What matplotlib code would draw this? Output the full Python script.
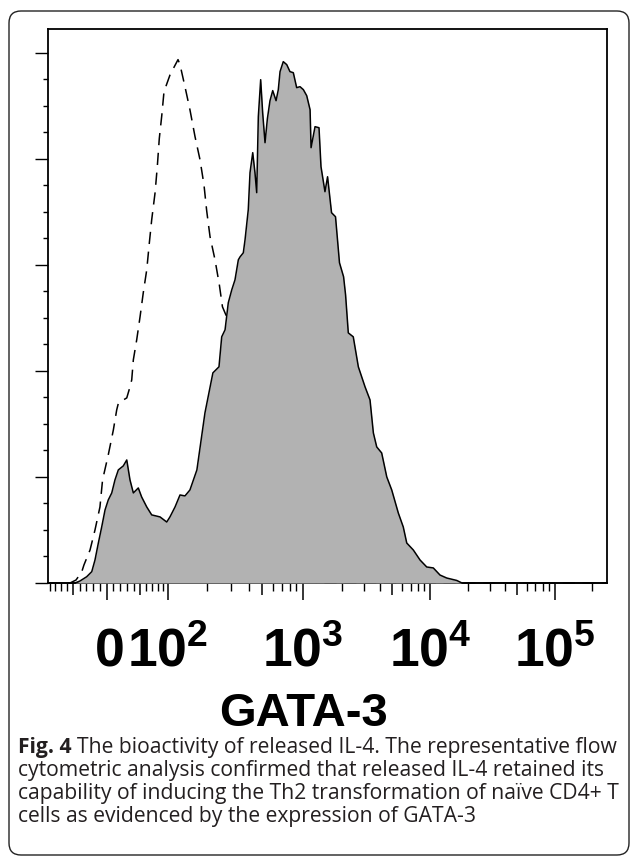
import numpy as np
import matplotlib
matplotlib.use("Agg")
import matplotlib.pyplot as plt
from matplotlib.patches import FancyBboxPatch
from matplotlib.transforms import ScaledTranslation

# ---------------- data (x in logicle display units, decades; y = cell counts) -------------
gata3_channel = [0.0, 0.216, 0.256, 0.310, 0.351, 0.377, 0.404, 0.431, 0.458, 0.484, 0.512,
                 0.538, 0.565, 0.605, 0.633, 0.659, 0.686, 0.726, 0.753, 0.794, 0.834,
                 0.901, 0.955, 0.981, 1.022, 1.062, 1.102, 1.142, 1.198, 1.263, 1.327,
                 1.376, 1.398, 1.425, 1.451, 1.479, 1.505, 1.532, 1.546, 1.572, 1.586,
                 1.612, 1.626, 1.648, 1.666, 1.680, 1.693, 1.712, 1.728, 1.747, 1.766,
                 1.787, 1.809, 1.836, 1.854, 1.868, 1.894, 1.922, 1.948, 1.975, 2.002,
                 2.029, 2.056, 2.083, 2.110, 2.118, 2.150, 2.182, 2.198, 2.230, 2.251,
                 2.283, 2.315, 2.347, 2.380, 2.396, 2.418, 2.458, 2.499, 2.553, 2.593,
                 2.620, 2.647, 2.687, 2.728, 2.768, 2.821, 2.861, 2.889, 2.942, 2.996,
                 3.050, 3.103, 3.157, 3.211, 3.292, 3.334, 4.5]
gata3_counts = [0, 0, 1.9, 5.9, 10.7, 21.7, 37.7, 52.8, 68.9, 78.3, 84.9,
                97.2, 106.6, 110.4, 116.0, 97.2, 84.9, 89.6, 81.1, 71.7, 64.2,
                62.3, 57.5, 62.3, 71.7, 83.0, 82.1, 87.7, 106.6, 160.4, 198.1,
                203.8, 232.1, 238.7, 264.2, 276.4, 285.8, 304.7, 307.5, 311.3, 323.6,
                351.9, 386.8, 405.7, 386.8, 368.0, 439.6, 474.5, 443.4, 415.1, 437.7,
                454.7, 464.2, 454.7, 465.1, 482.1, 491.5, 488.7, 482.1, 481.1, 467.0,
                467.9, 465.1, 459.4, 446.2, 410.4, 430.2, 429.2, 392.5, 368.9, 383.0,
                349.1, 345.3, 301.9, 288.7, 271.7, 235.8, 232.1, 203.8, 184.9, 172.6,
                141.5, 128.3, 122.6, 100.0, 87.7, 66.0, 52.8, 37.7, 31.1, 21.7,
                15.1, 14.2, 7.5, 4.7, 2.4, 0, 0]

control_channel = [0.0, 0.176, 0.224, 0.270, 0.288, 0.337, 0.377, 0.417, 0.438, 0.484, 0.525,
                   0.552, 0.566, 0.633, 0.659, 0.673, 0.686, 0.713, 0.740, 0.766, 0.794,
                   0.815, 0.834, 0.861, 0.879, 0.895, 0.915, 0.933, 0.982, 1.046, 1.062,
                   1.102, 1.142, 1.183, 1.223, 1.255, 1.277, 1.304, 1.344, 1.379, 1.404,
                   1.438, 1.481, 1.546, 1.626, 1.723, 1.868, 2.029, 2.190, 4.5]
control_counts = [0, 0, 2.8, 10.4, 17.0, 31.1, 50.0, 71.7, 97.2, 120.8, 144.3,
                  163.2, 169.8, 174.5, 184.9, 191.5, 210.4, 229.2, 250.9, 273.6, 295.3,
                  320.8, 342.5, 367.9, 392.5, 418.9, 440.6, 463.2, 479.2, 493.4, 488.7,
                  467.9, 446.2, 420.8, 399.1, 375.5, 350.9, 326.4, 304.7, 281.1, 260.4,
                  251.0, 224.5, 172.6, 116.0, 59.4, 17.0, 2.8, 0, 0]

major_tick_values = [0, 1e2, 1e3, 1e4, 1e5]
major_tick_labels = ["0", r"$10^{2}$", r"$10^{3}$", r"$10^{4}$", r"$10^{5}$"]
mid_tick_values = [-50, 50, 500, 5000, 50000]
minor_tick_values = ([-v for v in range(10, 100, 10) if v != 50] +
                     [v for v in range(10, 100, 10) if v != 50] +
                     [v * 10 ** k for k in (2, 3, 4) for v in range(2, 10) if v != 5] + [2e5])

x_label = "GATA-3"
caption_bold = "Fig. 4"
caption_lines = ["The bioactivity of released IL-4. The representative flow",
                 "cytometric analysis confirmed that released IL-4 retained its",
                 "capability of inducing the Th2 transformation of naïve CD4+ T",
                 "cells as evidenced by the expression of GATA-3"]

# ---------------- logicle transform (FlowJo-style) ----------------
LN10 = np.log(10.0)
T_TOP, M_DEC, W_DEC = 262144.0, 4.5, 0.47


def _solve_p(w):
    lo, hi = 1.0001, 20.0
    for _ in range(200):
        mid = 0.5 * (lo + hi)
        if 2 * mid * np.log(mid) / (mid + 1) < w:
            lo = mid
        else:
            hi = mid
    return 0.5 * (lo + hi)


def logicle_to_data(d):
    w = W_DEC * LN10
    m = M_DEC * LN10
    p = _solve_p(w)
    x = np.asarray(d, dtype=float) * LN10

    def S(xx):
        return T_TOP * np.exp(-(m - w)) * (np.exp(xx - w) - p * p * np.exp(-(xx - w) / p) + p * p - 1)

    return np.where(x >= w, S(x), -S(2 * w - x))


_grid = np.linspace(-1.0, 5.0, 60001)
_vals = logicle_to_data(_grid)


def data_to_logicle(v):
    return np.interp(np.asarray(v, dtype=float), _vals, _grid)


# ---------------- figure ----------------
plt.rcParams["mathtext.fontset"] = "custom"
plt.rcParams["mathtext.rm"] = "Liberation Sans:bold"
plt.rcParams["mathtext.it"] = "Liberation Sans:bold"
plt.rcParams["mathtext.bf"] = "Liberation Sans:bold"

FW, FH = 630.0, 858.0
fig = plt.figure(figsize=(6.3, 8.58), dpi=100)
fig.patch.set_facecolor("white")

frame = FancyBboxPatch((0.09, 0.03), 6.2, 8.44, boxstyle="round,pad=0,rounding_size=0.12",
                       transform=fig.dpi_scale_trans, facecolor="none", edgecolor="#222222",
                       linewidth=1.0, zorder=0)
fig.patches.append(frame)

ax = fig.add_axes([48.2 / FW, 1 - 583 / FH, (606.7 - 48.2) / FW, (583 - 29.3) / FH])
ax.plot(control_channel, control_counts, color="black", lw=1.1, dashes=(8, 5), zorder=2,
        clip_on=False)
ax.fill_between(gata3_channel, 0, gata3_counts, color="#b2b2b2", lw=0, zorder=3)
ax.plot(gata3_channel, gata3_counts, color="black", lw=1.1, zorder=4, clip_on=False)

ax.set_xlim(0, M_DEC)
ax.set_ylim(0, 522)

for s in ax.spines.values():
    s.set_linewidth(1.3)
    s.set_color("black")

# y ticks (no labels)
ax.set_yticks(np.arange(0, 501, 100))
ax.set_yticks(np.arange(0, 522, 25), minor=True)
ax.tick_params(axis="y", which="major", direction="out", length=9.2, width=1.0,
               labelleft=False)
ax.tick_params(axis="y", which="minor", direction="out", length=3.5, width=1.0)

# x ticks
major_pos = list(data_to_logicle(major_tick_values)) + list(data_to_logicle(mid_tick_values))
major_lab = major_tick_labels + [""] * len(mid_tick_values)
ax.set_xticks(major_pos)
ax.set_xticklabels(major_lab)
ax.set_xticks(data_to_logicle(minor_tick_values), minor=True)
ax.tick_params(axis="x", which="major", direction="out", length=12.2, width=1.1, pad=48,
               labelsize=38.5)
ax.tick_params(axis="x", which="minor", direction="out", length=5.8, width=1.0)
for lab in ax.get_xticklabels():
    lab.set_fontfamily("Liberation Sans")
    lab.set_fontweight("bold")
    lab.set_va("baseline")
ticks = ax.xaxis.get_major_ticks(len(major_pos))
for i, t in enumerate(ticks):
    if i >= len(major_tick_values):
        t.tick1line.set_markersize(8.6)
# the "0" label sits slightly right of its tick in the reference
zero_lab = ticks[0].label1
zero_lab.set_transform(zero_lab.get_transform() +
                       ScaledTranslation(0.035, 0, fig.dpi_scale_trans))

# axis label
fig.text(303.5 / FW, 1 - 726 / FH, x_label, ha="center", va="baseline", fontsize=34,
         fontweight="bold", family="Liberation Sans")

# caption: size chosen so the first line spans the measured width (x 18 -> 617 px)
cap_color = "#231f20"
x0_px, x1_px = 18.0, 617.0
base_y = [753, 776, 799, 822]
renderer = fig.canvas.get_renderer()
size = 12.0
tb = fig.text(x0_px / FW, 1 - base_y[0] / FH, caption_bold + " ", ha="left", va="baseline",
              fontsize=size, fontweight="bold", family="Open Sans", color=cap_color)
tr = fig.text(0, 1 - base_y[0] / FH, caption_lines[0], ha="left", va="baseline",
              fontsize=size, family="Open Sans", color=cap_color)
for _ in range(3):
    tb.set_fontsize(size)
    tr.set_fontsize(size)
    bb = tb.get_window_extent(renderer=renderer)
    tr.set_x(bb.x1 / fig.bbox.width)
    br = tr.get_window_extent(renderer=renderer)
    width = br.x1 - bb.x0
    size = size * (x1_px - x0_px) / width
tb.set_fontsize(size)
tr.set_fontsize(size)
bb = tb.get_window_extent(renderer=renderer)
tr.set_x(bb.x1 / fig.bbox.width)
for yb, line in zip(base_y[1:], caption_lines[1:]):
    fig.text(x0_px / FW, 1 - yb / FH, line, ha="left", va="baseline", fontsize=size,
             family="Open Sans", color=cap_color)

fig.savefig("out.png", dpi=100, facecolor="white")
